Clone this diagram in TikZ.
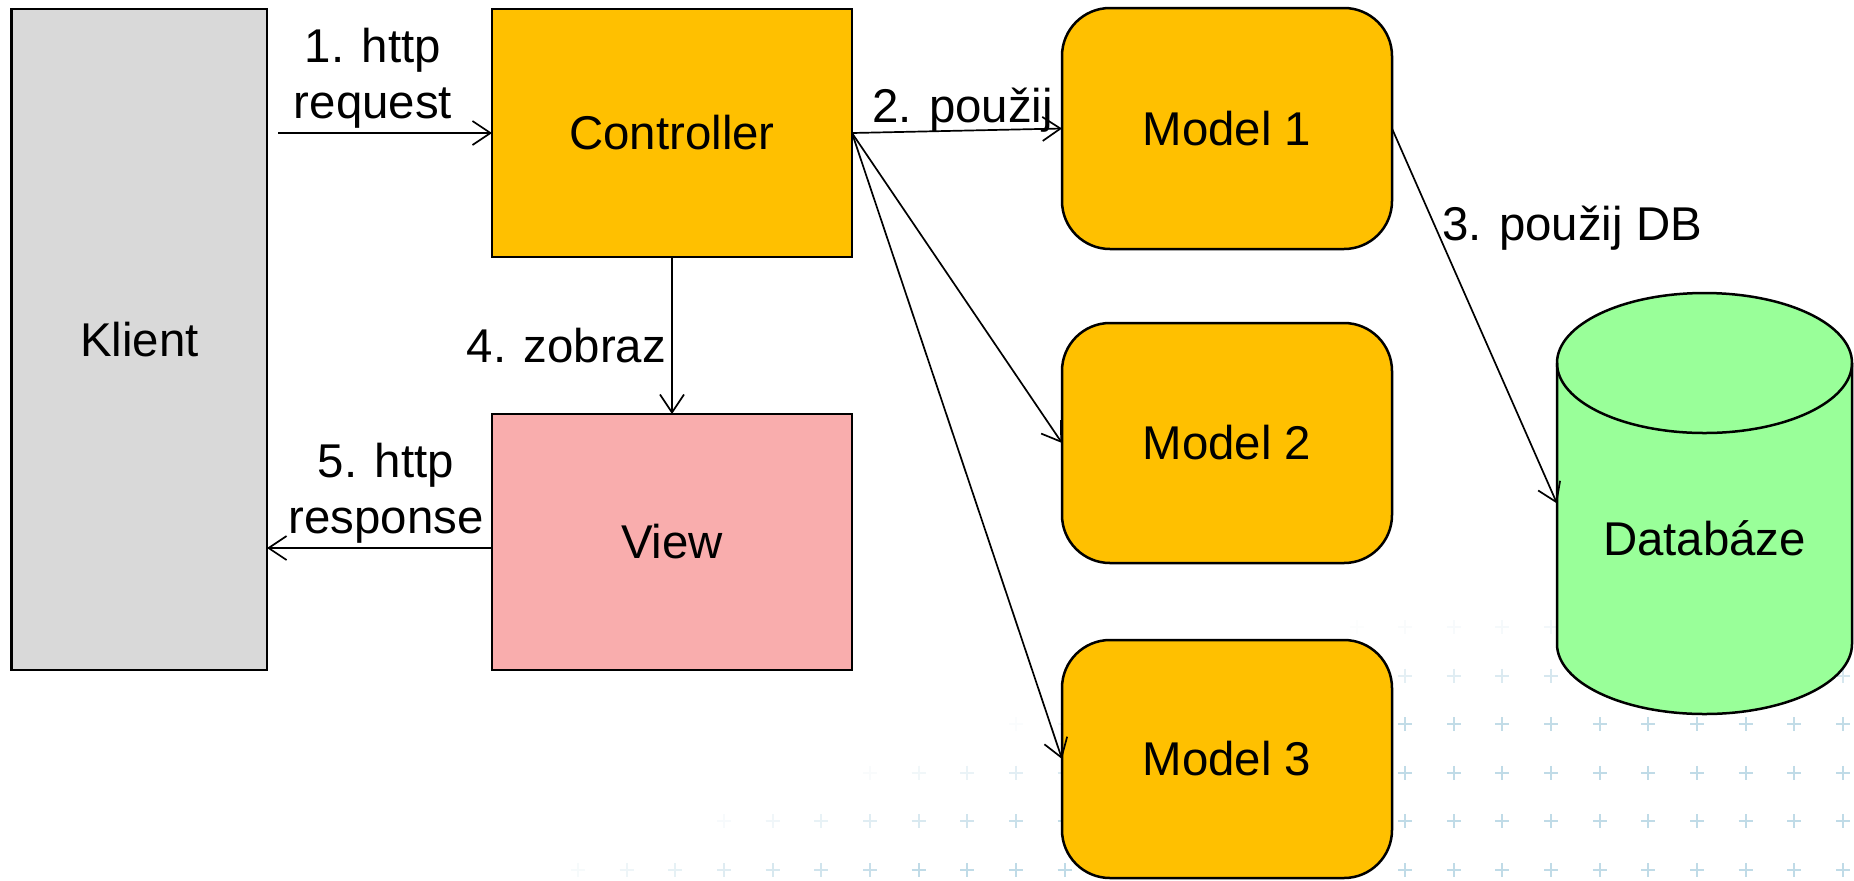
\documentclass[tikz,border=0pt]{standalone}
\usepackage{fontspec}
\setmainfont{Liberation Sans}
\usetikzlibrary{arrows.meta,shapes.geometric}
\definecolor{klientgray}{HTML}{D9D9D9}
\definecolor{ctrlorange}{HTML}{FFC000}
\definecolor{viewpink}{HTML}{F9ADAD}
\definecolor{dbgreen}{HTML}{99FF99}
\definecolor{plusblue}{RGB}{150,195,215}
\tikzset{
  box/.style={draw, line width=1.25pt, rectangle, inner sep=0pt, outer sep=0pt},
  modelbox/.style={box, rounded corners=24pt, fill=ctrlorange, minimum width=165pt},
  arr/.style={draw, line width=0.85pt, -{Straight Barb[length=9pt,width=12pt]}},
  lbl/.style={inner sep=0pt, outer sep=0pt, align=center},
  plusmark/.style={draw=plusblue, line width=1pt},
  dbshape/.style={draw, fill=dbgreen, line width=1.25pt}
}
\begin{document}
\begin{tikzpicture}[x=0.5pt,y=-0.5pt,font=\fontsize{23.7pt}{28pt}\selectfont]
\useasboundingbox (0,0) rectangle (1854,880);
\fill[white] (0,0) rectangle (1854,880);
% faint background pattern
\foreach \j in {0,...,5}{
  \foreach \i in {0,...,26}{
    \pgfmathsetmacro\px{1843-48.65*\i}
    \pgfmathsetmacro\py{627+48.6*\j}
    \pgfmathsetmacro\xo{1300-(\py-627)*3.2}
    \pgfmathsetmacro\op{0.6*max(0,min(1,(\px-\xo)/400))*max(0,min(1,(\py-580)/150))}
    \ifdim\op pt>0.01pt
      \draw[plusmark, opacity=\op] (\px-7,\py) -- (\px+7,\py) (\px,\py-7) -- (\px,\py+7);
    \fi
  }
}
% nodes
\node[box, fill=klientgray, minimum width=127.75pt, minimum height=330.5pt] (Klient) at (139.3,339.5) {Klient};
\node[box, fill=ctrlorange, minimum width=180pt, minimum height=124pt] (Controller) at (672,133) {Controller};
\node[box, fill=viewpink, minimum width=180pt, minimum height=128pt] (View) at (672,542) {View};
\node[modelbox, minimum height=120.5pt] (Model1) at (1227,128.5) {Model 1};
\node[modelbox, minimum height=120pt] (Model2) at (1227,443) {Model 2};
\node[modelbox, minimum height=119pt] (Model3) at (1227,759) {Model 3};
% database cylinder
\node[inner sep=0pt, outer sep=0pt, minimum width=147.5pt, minimum height=210.5pt] (db) at (1704.5,503.5) {};
\draw[dbshape] (1557,363) -- (1557,644) arc[start angle=180, end angle=0, x radius=147.5, y radius=70]
  -- (1852,363) arc[start angle=0, end angle=-180, x radius=147.5, y radius=70] -- cycle;
\draw[line width=1.25pt] (1557,363) arc[start angle=180, end angle=0, x radius=147.5, y radius=70];
\node[lbl] (dblabel) at (1704.5,538) {Databáze};
% connectors
\coordinate (reqstart) at (278,133);
\coordinate (resp) at ([yshift=-3pt]View.west);
\draw[arr] (reqstart) -- (Controller.west);
\draw[arr] (Controller.east) -- (Model1.west);
\draw[arr] (Controller.east) -- (Model2.west);
\draw[arr] (Controller.east) -- (Model3.west);
\draw[arr] (Model1.east) -- (db.west);
\draw[arr] (Controller.south) -- (View.north);
\draw[arr] (resp) -- (resp -| Klient.east);
% labels
\node[lbl, anchor=south] (l1) at (373,128) {1. http\\request};
\node[lbl, anchor=base west] (l2) at (872,122) {2. použij};
\node[lbl, anchor=base west] (l3) at (1442,240) {3. použij DB};
\node[lbl, anchor=base east] (l4) at (666,362) {4. zobraz};
\node[lbl, anchor=south] (l5) at (386,543) {5. http\\response};
\end{tikzpicture}
\end{document}
